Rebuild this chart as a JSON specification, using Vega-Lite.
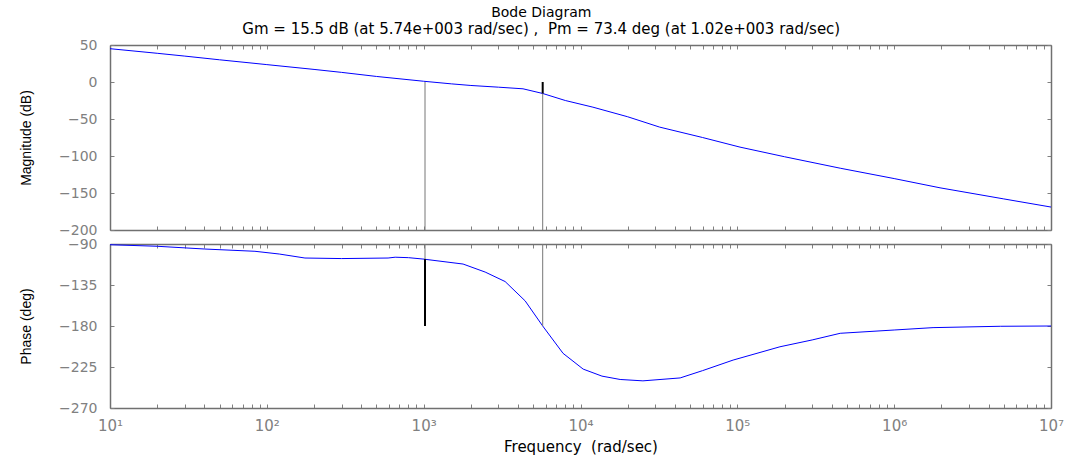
{
  "$schema": "https://vega.github.io/schema/vega-lite/v6.json",
  "background": "white",
  "padding": {"left": 19, "right": 5, "top": 6, "bottom": 2},
  "title": {
    "text": "Bode Diagram",
    "subtitle": "Gm = 15.5 dB (at 5.74e+003 rad/sec) , \u00a0Pm = 73.4 deg (at 1.02e+003 rad/sec)",
    "anchor": "middle",
    "font": "DejaVu Sans",
    "fontSize": 14,
    "fontWeight": "normal",
    "color": "black",
    "subtitleFont": "DejaVu Sans",
    "subtitleFontSize": 15,
    "subtitleColor": "black",
    "subtitlePadding": 2,
    "offset": 1
  },
  "config": {
    "view": {"stroke": null},
    "axis": {
      "grid": false,
      "labelFont": "DejaVu Sans",
      "labelFontSize": 14,
      "labelColor": "#808080",
      "titleFont": "Liberation Sans",
      "titleFontSize": 14,
      "titleFontWeight": "normal",
      "titleColor": "black",
      "domainColor": "#707070",
      "domainWidth": 1.5,
      "tickColor": "#808080",
      "tickWidth": 1,
      "tickSize": -4
    }
  },
  "datasets": {
    "magnitude": [
      {"freq": 10, "mag": 45},
      {"freq": 20, "mag": 38.8},
      {"freq": 30, "mag": 35},
      {"freq": 50, "mag": 30},
      {"freq": 100, "mag": 23.5},
      {"freq": 200, "mag": 17},
      {"freq": 300, "mag": 13},
      {"freq": 500, "mag": 7.5},
      {"freq": 1000, "mag": 1},
      {"freq": 1500, "mag": -2.5},
      {"freq": 2000, "mag": -4.7},
      {"freq": 3000, "mag": -7},
      {"freq": 4300, "mag": -9.2},
      {"freq": 5740, "mag": -15.5},
      {"freq": 8000, "mag": -25},
      {"freq": 12000, "mag": -34},
      {"freq": 20000, "mag": -47},
      {"freq": 32000, "mag": -61},
      {"freq": 60000, "mag": -75},
      {"freq": 104000, "mag": -88},
      {"freq": 200000, "mag": -101},
      {"freq": 453000, "mag": -116.5},
      {"freq": 1000000, "mag": -130.5},
      {"freq": 1960000, "mag": -143},
      {"freq": 5000000, "mag": -158},
      {"freq": 10000000, "mag": -169}
    ],
    "phase": [
      {"freq": 10, "phase": -90.8},
      {"freq": 20, "phase": -92.5},
      {"freq": 40, "phase": -95.5},
      {"freq": 84, "phase": -98},
      {"freq": 120, "phase": -101},
      {"freq": 175, "phase": -105.4},
      {"freq": 300, "phase": -106},
      {"freq": 593, "phase": -105.4},
      {"freq": 658, "phase": -104.5},
      {"freq": 800, "phase": -105},
      {"freq": 990, "phase": -106.5},
      {"freq": 1783, "phase": -112},
      {"freq": 2466, "phase": -120.8},
      {"freq": 3306, "phase": -131.2},
      {"freq": 4436, "phase": -152.4},
      {"freq": 5740, "phase": -180},
      {"freq": 7740, "phase": -210},
      {"freq": 10400, "phase": -227.3},
      {"freq": 13700, "phase": -235},
      {"freq": 17900, "phase": -238.7},
      {"freq": 25000, "phase": -240.2},
      {"freq": 43200, "phase": -237},
      {"freq": 60000, "phase": -229},
      {"freq": 94000, "phase": -217.4},
      {"freq": 187000, "phase": -202.8},
      {"freq": 300000, "phase": -195.3},
      {"freq": 453000, "phase": -188},
      {"freq": 1000000, "phase": -184.4},
      {"freq": 1770000, "phase": -181.8},
      {"freq": 4750000, "phase": -180.3},
      {"freq": 10000000, "phase": -180}
    ],
    "margins": [
      {"panel": "mag", "freq": 1020, "from": -200, "to": 0, "seg": "guide"},
      {"panel": "mag", "freq": 5740, "from": -200, "to": -15.5, "seg": "guide"},
      {"panel": "mag", "freq": 5740, "from": -15.5, "to": 0, "seg": "margin"},
      {"panel": "phase", "freq": 1020, "from": -106.6, "to": -90, "seg": "guide"},
      {"panel": "phase", "freq": 5740, "from": -180, "to": -90, "seg": "guide"},
      {"panel": "phase", "freq": 1020, "from": -180, "to": -106.6, "seg": "margin"}
    ]
  },
  "spacing": 0,
  "vconcat": [
    {
      "width": 941,
      "height": 185,
      "layer": [
        {
          "data": {"name": "magnitude"},
          "mark": {"type": "line", "color": "#0000ff", "strokeWidth": 1, "clip": true},
          "encoding": {
            "x": {
              "field": "freq", "type": "quantitative",
              "scale": {"type": "log", "domain": [10, 10000000], "nice": false},
              "axis": {
                "orient": "bottom", "title": null, "labels": false,
                "values": [10,20,30,40,50,60,70,80,90,100,200,300,400,500,600,700,800,900,1000,2000,3000,4000,5000,6000,7000,8000,9000,10000,20000,30000,40000,50000,60000,70000,80000,90000,100000,200000,300000,400000,500000,600000,700000,800000,900000,1000000,2000000,3000000,4000000,5000000,6000000,7000000,8000000,9000000,10000000],
                "minExtent": 0, "maxExtent": 0
              }
            },
            "y": {
              "field": "mag", "type": "quantitative",
              "scale": {"domain": [-200, 50], "nice": false, "zero": false},
              "axis": {
                "orient": "left", "title": "Magnitude (dB)",
                "values": [50, 0, -50, -100, -150, -200],
                "labelPadding": 17, "minExtent": 60, "maxExtent": 60, "titlePadding": 17
              }
            }
          }
        },
        {
          "mark": {"type": "rule", "color": "#a8a8a8", "strokeDash": [1, 1], "strokeWidth": 1},
          "encoding": {"y": {"datum": 0, "type": "quantitative", "axis": null}}
        },
        {
          "data": {"name": "margins"},
          "transform": [{"filter": "datum.panel == 'mag'"}],
          "mark": {"type": "rule"},
          "encoding": {
            "x": {
              "field": "freq", "type": "quantitative",
              "axis": {
                "orient": "top", "title": null, "labels": false,
                "values": [10,20,30,40,50,60,70,80,90,100,200,300,400,500,600,700,800,900,1000,2000,3000,4000,5000,6000,7000,8000,9000,10000,20000,30000,40000,50000,60000,70000,80000,90000,100000,200000,300000,400000,500000,600000,700000,800000,900000,1000000,2000000,3000000,4000000,5000000,6000000,7000000,8000000,9000000,10000000],
                "minExtent": 0, "maxExtent": 0
              }
            },
            "y": {
              "field": "from", "type": "quantitative",
              "axis": {"orient": "right", "title": null, "labels": false, "values": [50, 0, -50, -100, -150, -200], "minExtent": 0, "maxExtent": 0}
            },
            "y2": {"field": "to"},
            "color": {"field": "seg", "type": "nominal", "scale": {"domain": ["guide", "margin"], "range": ["#777777", "#000000"]}, "legend": null},
            "strokeWidth": {"field": "seg", "type": "nominal", "scale": {"domain": ["guide", "margin"], "range": [1, 2]}, "legend": null}
          }
        }
      ],
      "resolve": {"axis": {"x": "independent", "y": "independent"}}
    },
    {
      "width": 941,
      "height": 164,
      "layer": [
        {
          "data": {"name": "phase"},
          "mark": {"type": "line", "color": "#0000ff", "strokeWidth": 1, "clip": true},
          "encoding": {
            "x": {
              "field": "freq", "type": "quantitative",
              "scale": {"type": "log", "domain": [10, 10000000], "nice": false},
              "axis": {
                "orient": "bottom", "title": "Frequency \u00a0(rad/sec)",
                "titleFont": "DejaVu Sans", "titleFontSize": 15, "titlePadding": 6,
                "values": [10,20,30,40,50,60,70,80,90,100,200,300,400,500,600,700,800,900,1000,2000,3000,4000,5000,6000,7000,8000,9000,10000,20000,30000,40000,50000,60000,70000,80000,90000,100000,200000,300000,400000,500000,600000,700000,800000,900000,1000000,2000000,3000000,4000000,5000000,6000000,7000000,8000000,9000000,10000000],
                "labelExpr": "datum.value == 10 ? '10¹' : datum.value == 100 ? '10²' : datum.value == 1000 ? '10³' : datum.value == 10000 ? '10⁴' : datum.value == 100000 ? '10⁵' : datum.value == 1000000 ? '10⁶' : datum.value == 10000000 ? '10⁷' : ''",
                "labelOverlap": false, "labelFlush": false, "labelBound": false,
                "labelFontSize": 15, "labelPadding": 14
              }
            },
            "y": {
              "field": "phase", "type": "quantitative",
              "scale": {"domain": [-270, -90], "nice": false, "zero": false},
              "axis": {
                "orient": "left", "title": "Phase (deg)",
                "values": [-90, -135, -180, -225, -270],
                "labelPadding": 17, "minExtent": 60, "maxExtent": 60, "titlePadding": 17
              }
            }
          }
        },
        {
          "mark": {"type": "rule", "color": "#a8a8a8", "strokeDash": [1, 1], "strokeWidth": 1},
          "encoding": {"y": {"datum": -180, "type": "quantitative", "axis": null}}
        },
        {
          "data": {"name": "margins"},
          "transform": [{"filter": "datum.panel == 'phase'"}],
          "mark": {"type": "rule"},
          "encoding": {
            "x": {
              "field": "freq", "type": "quantitative",
              "axis": {
                "orient": "top", "title": null, "labels": false,
                "values": [10,20,30,40,50,60,70,80,90,100,200,300,400,500,600,700,800,900,1000,2000,3000,4000,5000,6000,7000,8000,9000,10000,20000,30000,40000,50000,60000,70000,80000,90000,100000,200000,300000,400000,500000,600000,700000,800000,900000,1000000,2000000,3000000,4000000,5000000,6000000,7000000,8000000,9000000,10000000],
                "minExtent": 0, "maxExtent": 0
              }
            },
            "y": {
              "field": "from", "type": "quantitative",
              "axis": {"orient": "right", "title": null, "labels": false, "values": [-90, -135, -180, -225, -270], "minExtent": 0, "maxExtent": 0}
            },
            "y2": {"field": "to"},
            "color": {"field": "seg", "type": "nominal", "scale": {"domain": ["guide", "margin"], "range": ["#777777", "#000000"]}, "legend": null},
            "strokeWidth": {"field": "seg", "type": "nominal", "scale": {"domain": ["guide", "margin"], "range": [1, 2]}, "legend": null}
          }
        }
      ],
      "resolve": {"axis": {"x": "independent", "y": "independent"}}
    }
  ]
}
